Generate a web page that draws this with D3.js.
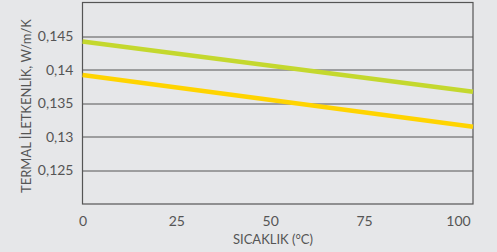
<!DOCTYPE html>
<html>
<head>
<meta charset="utf-8">
<script src="https://cdn.jsdelivr.net/npm/d3@7"></script>
<style>
  html, body { margin: 0; padding: 0; background: #e6e7e9; }
  svg { display: block; }
  text { font-family: "Lato", "Open Sans", sans-serif; fill: #555; }
</style>
</head>
<body>
<svg id="chart" width="497" height="252"></svg>
<script>
var temps = [0, 104];
var greenVals = [0.1442, 0.1367];
var yellowVals = [0.1392, 0.1315];
var xTicks = [0, 25, 50, 75, 100];
var yTicks = [0.125, 0.13, 0.135, 0.14, 0.145];

var svg = d3.select("#chart"),
  margin = {top: 2.5, right: 24, bottom: 48, left: 82.5},
  width = 497 - margin.left - margin.right,
  height = 252 - margin.top - margin.bottom;

var g = svg.append("g").attr("transform", "translate(" + margin.left + "," + margin.top + ")");

var x = d3.scaleLinear().domain([0, 104]).range([0, width]);
var y = d3.scaleLinear().domain([0.12, 0.15]).range([height, 0]);

// grid
g.append("g")
  .selectAll("line")
  .data(yTicks)
  .enter().append("line")
    .attr("x1", 0).attr("x2", width)
    .attr("y1", function(d) { return Math.round(y(d)) + 0.5; })
    .attr("y2", function(d) { return Math.round(y(d)) + 0.5; })
    .attr("stroke", "#555").attr("stroke-width", 1);

g.append("rect")
  .attr("x", 0).attr("y", 0)
  .attr("width", width).attr("height", height)
  .attr("fill", "none").attr("stroke", "#555").attr("stroke-width", 1.2);

// y tick labels
var fmt = function(d) { return d3.format(".3~f")(d).replace(".", ","); };
g.append("g")
  .call(d3.axisLeft(y).tickValues(yTicks).tickSize(0).tickPadding(9).tickFormat(fmt))
  .call(function(a) { a.select(".domain").remove(); })
  .selectAll("text")
    .style("font-size", "14px").attr("fill", "#555");

g.append("g")
  .attr("transform", "translate(0," + height + ")")
  .call(d3.axisBottom(x).tickValues(xTicks).tickSize(0).tickPadding(12))
  .call(function(a) { a.select(".domain").remove(); })
  .selectAll("text")
    .style("font-size", "14px").attr("fill", "#555");

var line = d3.line()
  .x(function(d, i) { return x(temps[i]); })
  .y(function(d) { return y(d); });

g.append("path").datum(greenVals)
  .attr("fill", "none").attr("stroke", "#c4d82e").attr("stroke-width", 4.5)
  .attr("d", line);

g.append("path").datum(yellowVals)
  .attr("fill", "none").attr("stroke", "#ffd400").attr("stroke-width", 4.5)
  .attr("d", line);

svg.append("text")
  .attr("transform", "translate(31,106) rotate(-90)")
  .attr("text-anchor", "middle")
  .style("font-size", "13px")
  .text("TERMAL İLETKENLİK, W/m/K");

svg.append("text")
  .attr("x", 273).attr("y", 244)
  .attr("text-anchor", "middle")
  .style("font-size", "13px")
  .text("SICAKLIK (°C)");
</script>
</body>
</html>
